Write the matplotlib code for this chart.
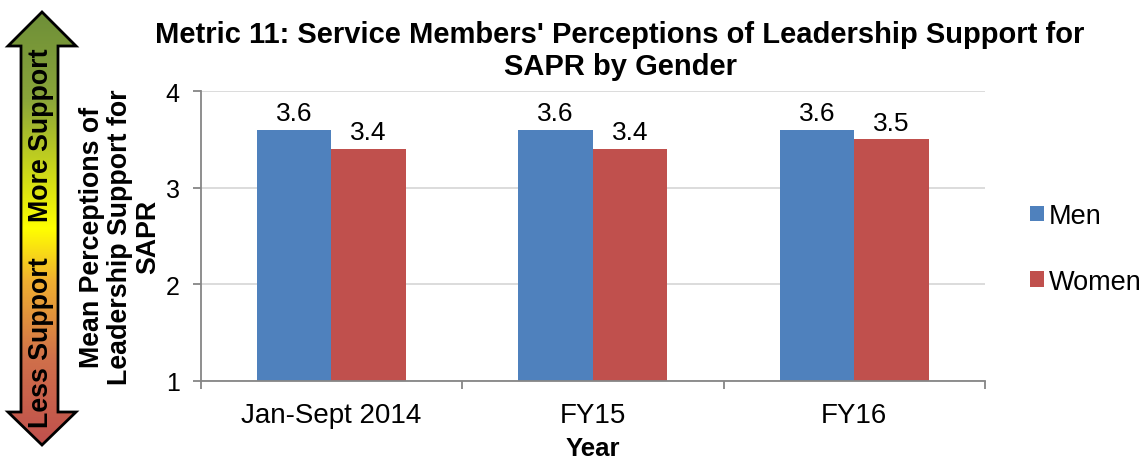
import numpy as np
import matplotlib
matplotlib.use("Agg")
import matplotlib.pyplot as plt
from matplotlib.patches import Polygon
from matplotlib.colors import LinearSegmentedColormap

# -------------------------------
# Data
# -------------------------------
years = ["Jan-Sept 2014", "FY15", "FY16"]
men = [3.6, 3.6, 3.6]
women = [3.4, 3.4, 3.5]
series_names = ["Men", "Women"]
series_colors = ["#4F81BD", "#C0504D"]

plt.rcParams["font.family"] = ["Liberation Sans", "DejaVu Sans"]

W, H = 1145, 464
fig = plt.figure(figsize=(W / 100, H / 100), dpi=100)

# -------------------------------
# Gradient arrow on the left (pixel coordinates)
# -------------------------------
deco = fig.add_axes([0, 0, 1, 1])
deco.set_xlim(0, W)
deco.set_ylim(H, 0)
deco.axis("off")

arrow_pts = [(42, 13), (76, 47), (58, 47), (58, 413), (76, 413), (42, 446),
             (8, 413), (21, 413), (21, 47), (8, 47)]
cmap = LinearSegmentedColormap.from_list(
    "support", [(0, "#6E8F38"), (0.2, "#8AA53A"), (0.5, "#FFFF00"), (0.62, "#F0B030"),
                (0.8, "#D0704A"), (1, "#C0504D")])
grad = np.linspace(0, 1, 256).reshape(-1, 1)
img = deco.imshow(grad, cmap=cmap, aspect="auto", extent=(8, 76, 446, 13), zorder=1)
poly = Polygon(arrow_pts, closed=True, facecolor="none", edgecolor="black", lw=2, zorder=2)
deco.add_patch(poly)
img.set_clip_path(poly)
deco.text(41, 135, "More Support", rotation=90, ha="center", va="center",
          fontsize=19.3, fontweight="bold", zorder=3)
deco.text(41, 343, "Less Support", rotation=90, ha="center", va="center",
          fontsize=19.3, fontweight="bold", zorder=3)

# -------------------------------
# Main bar chart
# -------------------------------
ax = fig.add_axes([200.5 / W, 1 - 382 / H, 784.5 / W, 290 / H])
x = np.arange(len(years))
bw = 0.285
b1 = ax.bar(x - bw / 2, np.array(men) - 1, bw, bottom=1, color=series_colors[0],
            label=series_names[0], zorder=2)
b2 = ax.bar(x + bw / 2, np.array(women) - 1, bw, bottom=1, color=series_colors[1],
            label=series_names[1], zorder=2)
for bars, vals in ((b1, men), (b2, women)):
    for r, v in zip(bars, vals):
        ax.text(r.get_x() + r.get_width() / 2, v + 0.05, f"{v:.1f}",
                ha="center", va="bottom", fontsize=19)

ax.set_ylim(1, 4)
ax.set_xlim(-0.5, len(years) - 0.5)
ax.set_yticks([1, 2, 3, 4])
ax.set_xticks(x)
ax.set_xticklabels(years, fontsize=20)
ax.set_xticks(np.arange(len(years) + 1) - 0.5, minor=True)
ax.tick_params(axis="x", which="major", length=0, pad=15)
ax.tick_params(axis="x", which="minor", length=6, color="#868686", width=1.3)
ax.tick_params(axis="y", length=6, color="#868686", width=1.3, labelsize=18, pad=9)
ax.grid(axis="y", color="#D9D9D9", lw=1.3, zorder=0)
for s in ["top", "right"]:
    ax.spines[s].set_visible(False)
for s in ["left", "bottom"]:
    ax.spines[s].set_color("#868686")
    ax.spines[s].set_linewidth(1.3)

ax.set_xlabel("Year", fontsize=18.5, fontweight="bold", labelpad=6)
ax.set_ylabel("Mean Perceptions of\nLeadership Support for\nSAPR", fontsize=19.3,
              fontweight="bold", linespacing=1.12, labelpad=3)

fig.text(620 / W, 1 - 51 / H,
         "Metric 11: Service Members' Perceptions of Leadership Support for\nSAPR by Gender",
         ha="center", va="center", fontsize=21, fontweight="bold", linespacing=1.2)

ax.legend(loc="center left", bbox_to_anchor=(1030 / W, 1 - 250 / H),
          bbox_transform=fig.transFigure, frameon=False, borderpad=0, borderaxespad=0,
          fontsize=19.5, handlelength=0.5, handleheight=0.5, handletextpad=0.2,
          labelspacing=1.45)

fig.savefig("out.png", dpi=100)
